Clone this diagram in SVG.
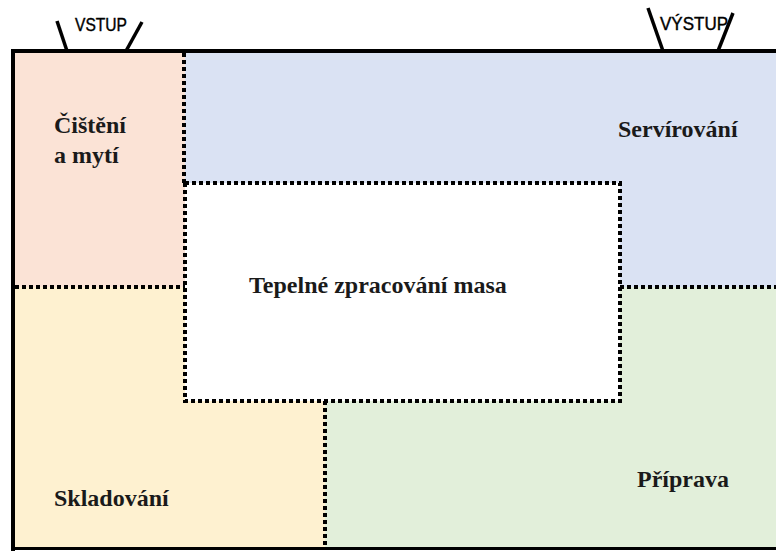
<svg xmlns="http://www.w3.org/2000/svg" width="776" height="551" viewBox="0 0 776 551">
<style>
.lbl{font-family:"Liberation Serif","Times New Roman",serif;font-weight:bold;font-size:24px;fill:#1a1a1a}
.io{font-family:"Liberation Sans",Arial,sans-serif;font-size:18px;fill:#000;stroke:#000;stroke-width:0.4}
.dot{fill:none;stroke:#000;stroke-width:4;stroke-dasharray:4 3}
.tick{stroke:#000;stroke-width:3.5;fill:none}
</style>
<rect width="776" height="551" fill="#fff"/>
<g id="cisteni">
<rect x="13" y="51" width="172" height="236" fill="#FBE3D6"/>
<text class="lbl" x="54" y="133">Čištění</text>
<text class="lbl" x="54" y="163">a mytí</text>
</g>
<g id="servirovani">
<rect x="185" y="51" width="591" height="236" fill="#DAE2F3"/>
<text class="lbl" x="618" y="137">Servírování</text>
</g>
<g id="skladovani">
<rect x="13" y="287" width="312" height="262" fill="#FEF1D0"/>
<text class="lbl" x="54" y="506">Skladování</text>
</g>
<g id="priprava">
<rect x="325" y="287" width="451" height="262" fill="#E2EFDA"/>
<text class="lbl" x="637" y="487">Příprava</text>
</g>
<g id="tepelne">
<rect x="185" y="183" width="435" height="218" fill="#fff"/>
<text class="lbl" x="249" y="293">Tepelné zpracování masa</text>
</g>
<g id="connectors">
<rect class="dot" x="185" y="183" width="435" height="218"/>
<line class="dot" x1="184" y1="53" x2="184" y2="183"/>
<line class="dot" x1="15" y1="287" x2="185" y2="287"/>
<line class="dot" x1="620" y1="287" x2="776" y2="287"/>
<line class="dot" x1="325" y1="401" x2="325" y2="549"/>
<path d="M13 551 V51 H776" fill="none" stroke="#000" stroke-width="4"/>
<line x1="13" y1="548.5" x2="776" y2="548.5" stroke="#000" stroke-width="3"/>
</g>
<g id="vstup">
<line class="tick" x1="57" y1="21" x2="67" y2="51"/>
<line class="tick" x1="142" y1="22" x2="126" y2="51"/>
<text class="io" x="75" y="31" textLength="52" lengthAdjust="spacingAndGlyphs">VSTUP</text>
</g>
<g id="vystup">
<line class="tick" x1="648" y1="8" x2="663" y2="51"/>
<line class="tick" x1="733" y1="13" x2="718" y2="51"/>
<text class="io" x="660" y="30" textLength="68" lengthAdjust="spacingAndGlyphs">VÝSTUP</text>
</g>
</svg>
